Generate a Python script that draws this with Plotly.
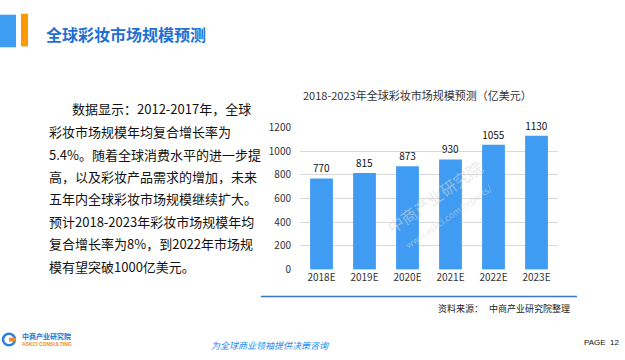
import plotly.graph_objects as go

categories = ["2018E", "2019E", "2020E", "2021E", "2022E", "2023E"]
values = [770, 815, 873, 930, 1055, 1130]
y_ticks = [0, 200, 400, 600, 800, 1000, 1200]

page_title = "全球彩妆市场规模预测"
chart_title = "2018-2023年全球彩妆市场规模预测（亿美元）"
source_text = "资料来源：   中商产业研究院整理"
body_lines = [
    "数据显示：2012-2017年，全球",
    "彩妆市场规模年均复合增长率为",
    "5.4%。随着全球消费水平的进一步提",
    "高，以及彩妆产品需求的增加，未来",
    "五年内全球彩妆市场规模继续扩大。",
    "预计2018-2023年彩妆市场规模年均",
    "复合增长率为8%，到2022年市场规",
    "模有望突破1000亿美元。",
]
slogan = "为全球商业领袖提供决策咨询"
page_label = "PAGE&nbsp;&nbsp;12"

W, H = 625, 360
CJK = "Noto Sans CJK SC"


def px(x):
    return x / W


def py(y):
    return 1 - y / H


fig = go.Figure()
fig.add_trace(go.Bar(
    x=categories, y=values,
    marker=dict(color="#3f9cf2", line=dict(width=0)),
    text=[str(v) for v in values], textposition="outside",
    textfont=dict(family=CJK, size=10, color="#111111"),
    cliponaxis=False, width=0.53, hoverinfo="skip",
))

annotations = []
# page title
annotations.append(dict(x=px(44), y=py(27), xref="paper", yref="paper",
                        xanchor="left", yanchor="middle", showarrow=False,
                        text="<b>" + page_title + "</b>",
                        font=dict(family=CJK, size=16, color="#1f6fd3")))
# chart title
annotations.append(dict(x=px(418), y=py(91), xref="paper", yref="paper",
                        xanchor="center", yanchor="middle", showarrow=False,
                        text=chart_title,
                        font=dict(family=CJK, size=11, color="#333333")))
# body text
line_y = [105, 129, 153, 176, 199, 223, 246, 270]
for i, (t, yy) in enumerate(zip(body_lines, line_y)):
    annotations.append(dict(x=px(70 if i == 0 else 47), y=py(yy), xref="paper", yref="paper",
                            xanchor="left", yanchor="middle", showarrow=False,
                            text=t, font=dict(family=CJK, size=13, color="#111111")))
# source
annotations.append(dict(x=px(572), y=py(314), xref="paper", yref="paper",
                        xanchor="right", yanchor="middle", showarrow=False,
                        text=source_text,
                        font=dict(family=CJK, size=9, color="#222222")))
# footer slogan
annotations.append(dict(x=px(270), y=py(352), xref="paper", yref="paper",
                        xanchor="center", yanchor="middle", showarrow=False,
                        text="<i>" + slogan + "</i>",
                        font=dict(family=CJK, size=9, color="#2a8ef0")))
# page
annotations.append(dict(x=px(582), y=py(349), xref="paper", yref="paper",
                        xanchor="left", yanchor="middle", showarrow=False,
                        text=page_label,
                        font=dict(family="Liberation Sans", size=8, color="#111111")))
# logo text
annotations.append(dict(x=px(20), y=py(342), xref="paper", yref="paper",
                        xanchor="left", yanchor="middle", showarrow=False,
                        text="<b>中商产业研究院</b>",
                        font=dict(family=CJK, size=7, color="#1f6fd3")))
annotations.append(dict(x=px(20), y=py(351), xref="paper", yref="paper",
                        xanchor="left", yanchor="middle", showarrow=False,
                        text="<b>ASKCI CONSULTING</b>",
                        font=dict(family="Liberation Sans", size=5, color="#f08a24")))
# watermark
annotations.append(dict(x=px(440), y=py(205), xref="paper", yref="paper",
                        xanchor="center", yanchor="middle", showarrow=False,
                        text="中商产业研究院<br><span style='font-size:9px'>www.askci.com/reports/</span>",
                        textangle=-35,
                        font=dict(family=CJK, size=16, color="rgba(215,215,215,0.55)")))

shapes = [
    dict(type="rect", xref="paper", yref="paper", x0=px(0), x1=px(16), y0=py(41), y1=py(7),
         fillcolor="#3d9df3", line=dict(width=0)),
    dict(type="rect", xref="paper", yref="paper", x0=px(21), x1=px(28), y0=py(40), y1=py(6),
         fillcolor="#ff9900", line=dict(width=0)),
    dict(type="line", xref="paper", yref="paper", x0=px(261), x1=px(577), y0=py(301), y1=py(301),
         line=dict(color="#3b78c4", width=1.5)),
    # logo circle
    dict(type="circle", xref="paper", yref="paper", x0=px(3), x1=px(15), y0=py(352), y1=py(340),
         fillcolor="rgba(0,0,0,0)", line=dict(color="#2a7fe0", width=2.5)),
    dict(type="rect", xref="paper", yref="paper", x0=px(9), x1=px(16), y0=py(348), y1=py(344),
         fillcolor="#f08a24", line=dict(width=0)),
]

fig.update_layout(
    width=W, height=H,
    margin=dict(l=0, r=0, t=0, b=0),
    paper_bgcolor="white", plot_bgcolor="white",
    showlegend=False, hovermode=False,
    annotations=annotations,
    shapes=shapes,
    xaxis=dict(domain=[px(300), px(558)], showgrid=False, showline=False, ticks="",
               tickfont=dict(family=CJK, size=10, color="#333333")),
    yaxis=dict(domain=[py(273), py(124.7)], range=[0, 1200], tickvals=y_ticks,
               showgrid=True, gridcolor="#d9d9d9", gridwidth=1, zeroline=False,
               showline=False, ticks="", ticklabelstandoff=8,
               tickfont=dict(family=CJK, size=10, color="#333333")),
)

fig.write_html("out.html", config={"displayModeBar": False},
               post_script="document.body.style.margin='0';document.body.style.overflow='hidden';")
